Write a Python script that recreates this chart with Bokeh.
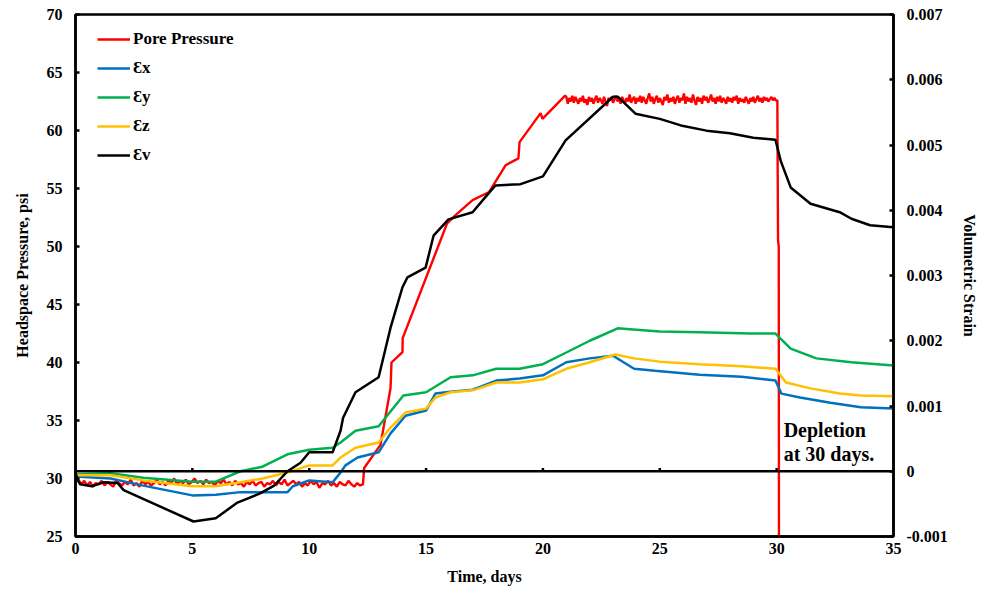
import numpy as np
from bokeh.plotting import figure
from bokeh.models import Range1d, LinearAxis, FixedTicker, Legend, LegendItem, Span, CustomJSTickFormatter
from bokeh.core.properties import value
from bokeh.embed import file_html
from bokeh.resources import INLINE

# ---------------- data ----------------
x_ticks = [0, 5, 10, 15, 20, 25, 30, 35]
psi_ticks = [25, 30, 35, 40, 45, 50, 55, 60, 65, 70]
strain_ticks = [-0.001, 0, 0.001, 0.002, 0.003, 0.004, 0.005, 0.006, 0.007]

# pore pressure (psi) - noisy early segment (0 .. 12.3 days)
pp_early_vals = [30.2, 29.9, 29.5, 29.8, 29.4, 29.7, 29.3, 29.6, 29.5, 29.8,
                 29.4, 29.7, 29.5, 29.3, 29.8, 29.6, 29.4, 29.7, 29.5, 29.9,
                 29.4, 29.6, 29.3, 29.8, 29.5, 29.7, 29.4, 29.6, 29.9, 29.5,
                 29.7, 29.4, 29.8, 29.6, 30.0, 29.5, 29.8, 29.6, 29.9, 29.5,
                 29.7, 30.0, 29.6, 29.8, 29.5, 29.9, 29.6, 29.7, 29.4, 29.8,
                 29.6, 29.9, 29.5, 29.7, 29.4, 29.8, 29.5, 29.6, 29.3, 29.7,
                 29.5, 29.8, 29.4, 29.6, 29.7, 29.3, 29.6, 29.5, 29.8, 29.4,
                 29.7, 29.5, 29.9, 29.4, 29.6, 29.8, 29.5, 29.7, 29.3, 29.6,
                 29.4, 29.8, 29.5, 29.7, 29.2, 29.6, 29.5, 29.8, 29.4, 29.6,
                 29.3, 29.7, 29.5, 29.4, 29.8, 29.5, 29.3, 29.6, 29.4, 29.5]
pp_early_t = list(np.linspace(0.0, 12.3, len(pp_early_vals)))
# pressure build-up
pp_rise_t = [12.35, 13.05, 13.48, 13.52, 13.99, 14.0, 15.9, 16.26, 16.99, 17.7,
             18.4, 18.95, 19.0, 19.9, 19.98, 20.95]
pp_rise_vals = [30.9, 32.9, 37.8, 40.0, 40.9, 42.1, 52.0, 52.7, 54.0, 54.7,
                57.0, 57.6, 59.0, 61.5, 61.0, 63.0]
# noisy plateau (21 .. 30 days)
pp_plat_vals = [62.9, 62.3, 62.8, 62.5, 63.0, 62.4, 62.9, 62.6, 62.3, 62.8,
                62.5, 63.0, 62.4, 62.7, 62.2, 62.9, 62.5, 62.8, 62.3, 62.7,
                63.0, 62.4, 62.8, 62.6, 62.3, 62.9, 62.5, 62.1, 62.8, 62.6,
                62.9, 62.4, 62.7, 63.0, 62.5, 62.8, 62.3, 62.9, 62.6, 62.4,
                62.8, 62.5, 63.1, 62.4, 62.7, 62.9, 62.3, 62.8, 62.5, 63.0,
                62.4, 62.9, 62.6, 62.3, 62.8, 63.2, 62.5, 62.9, 62.3, 62.7,
                63.0, 62.4, 62.8, 62.5, 62.2, 62.9, 62.6, 63.1, 62.4, 62.8,
                62.5, 62.9, 62.3, 62.7, 63.0, 62.4, 62.8, 62.6, 63.2, 62.3,
                62.9, 62.5, 62.8, 62.4, 63.1, 62.6, 62.2, 62.9, 62.5, 62.8,
                62.3, 63.0, 62.6, 62.9, 62.4, 62.7, 63.1, 62.5, 62.8, 62.3,
                62.9, 62.5, 63.0, 62.4, 62.8, 62.6, 62.3, 62.9, 62.5, 62.8,
                62.4, 62.9, 62.6, 63.0, 62.3, 62.8, 62.5, 62.7, 62.4, 62.9,
                62.6, 62.3, 62.8, 62.5, 62.9, 62.4, 62.7, 63.0, 62.5, 62.8,
                62.4, 62.9, 62.6, 62.8, 62.5, 62.7, 62.9, 62.6, 62.8, 62.6]
pp_plat_t = list(np.linspace(21.0, 29.97, len(pp_plat_vals)))
# depletion
pp_drop_t = [30.03, 30.06, 30.09, 30.1]
pp_drop_vals = [62.6, 50.5, 50.0, 20.0]

pp_t = pp_early_t + pp_rise_t + pp_plat_t + pp_drop_t
pp_vals = pp_early_vals + pp_rise_vals + pp_plat_vals + pp_drop_vals

# strains (right axis)
ex_t = [0, 1.5, 2.9, 5, 6, 7.06, 9.07, 9.3, 10, 11, 11.34, 11.55, 12.07, 12.97, 13.48,
        14.12, 15.0, 15.4, 16.05, 17.0, 18, 19, 20, 21, 22, 23, 23.9, 24.8, 26.7, 28.5,
        29.95, 30.2, 31, 32.3, 33.6, 35]
ex_vals = [-0.00008, -0.00011, -0.00022, -0.00037, -0.00036, -0.00032, -0.00032, -0.00023,
           -0.00014, -0.00017, -0.00002, 0.00009, 0.00021, 0.00029, 0.00058, 0.00085, 0.00093,
           0.00119, 0.00122, 0.00125, 0.00139, 0.00142, 0.00147, 0.00167, 0.00173, 0.00177,
           0.00157, 0.00154, 0.00148, 0.00145, 0.00139, 0.00119, 0.00113, 0.00105, 0.00098,
           0.00096]

ey_t = [0, 1.5, 2.9, 5, 6, 7.06, 8, 9.07, 10, 11, 11.34, 11.98, 12.97, 14.03, 15.0, 16.05,
        17.0, 18, 19, 20, 21, 22, 23.2, 24, 25, 26.7, 28.9, 29.95, 30.6, 31.7, 33.2, 35]
ey_vals = [-0.00005, -0.00003, -0.0001, -0.00016, -0.00016, 0.0, 0.00007, 0.00026, 0.00033,
           0.00036, 0.00044, 0.00062, 0.00069, 0.00116, 0.00121, 0.00144, 0.00147, 0.00157,
           0.00157, 0.00164, 0.00182, 0.002, 0.00219, 0.00217, 0.00214, 0.00213, 0.00211,
           0.00211, 0.00188, 0.00173, 0.00167, 0.00162]

ez_t = [0, 1.5, 2.9, 5, 6, 7.06, 8, 9.07, 10, 11, 11.34, 11.98, 12.97, 13.48, 14.12, 15.0,
        15.4, 16.05, 17.0, 18, 19, 20, 21, 22, 23.1, 23.9, 25, 26.7, 28.5, 29.95, 30.4,
        31.45, 32.7, 33.6, 35]
ez_vals = [-0.00006, -0.00006, -0.00014, -0.00023, -0.00023, -0.00017, -0.00011, -0.00002,
           0.00009, 0.00009, 0.00021, 0.00036, 0.00044, 0.00067, 0.0009, 0.00096, 0.00113,
           0.00121, 0.00124, 0.00136, 0.00136, 0.00141, 0.00157, 0.00167, 0.00179, 0.00173,
           0.00168, 0.00164, 0.00161, 0.00157, 0.00136, 0.00127, 0.00119, 0.00116, 0.00115]

ev_t = [0, 0.1, 0.2, 0.7, 1.2, 1.8, 2.06, 5.05, 6.0, 6.93, 7.9, 8.5, 9.07, 9.63, 10.0, 11.0,
        11.34, 11.45, 11.98, 12.97, 13.48, 13.99, 14.2, 14.98, 15.32, 15.96, 16.99, 17.7,
        17.97, 19.04, 20.0, 20.97, 23.0, 23.2, 23.96, 25.0, 25.9, 27.0, 28.0, 29.0, 29.95,
        30.17, 30.6, 31.45, 32.7, 33.2, 34.0, 35]
ev_vals = [-0.00002, -0.00014, -0.0002, -0.00023, -0.00017, -0.00018, -0.00029, -0.00077,
           -0.00072, -0.00048, -0.00034, -0.00022, 0.0, 0.00013, 0.00029, 0.00029, 0.00062,
           0.00082, 0.00121, 0.00144, 0.0022, 0.00282, 0.00297, 0.00312, 0.00361, 0.00386,
           0.00397, 0.00427, 0.00438, 0.0044, 0.00452, 0.00507, 0.00574, 0.00574, 0.00548,
           0.0054, 0.0053, 0.00522, 0.00518, 0.00511, 0.00508, 0.00476, 0.00435, 0.0041,
           0.00397, 0.00387, 0.00377, 0.00374]

legend_labels = ["Pore Pressure", "\u0190x", "\u0190y", "\u0190z", "\u0190v"]
colors = ["#FF0000", "#0070C0", "#00B050", "#FFC000", "#000000"]
note_lines = ["Depletion", "at 30 days."]

# ---------------- figure ----------------
FONT = "Liberation Serif"
p = figure(width=981, height=592, output_backend="svg", toolbar_location=None,
           x_range=Range1d(0, 35), y_range=Range1d(25, 70),
           min_border_left=75, min_border_right=88, min_border_top=14, min_border_bottom=56)
p.extra_y_ranges = {"strain": Range1d(-0.001, 0.007)}
p.xgrid.visible = False
p.ygrid.visible = False
p.background_fill_color = "white"
p.border_fill_color = "white"
p.outline_line_color = "black"
p.outline_line_width = 2.5
p.outline_line_alpha = 1.0

# axes
xa = p.xaxis[0]
xa.ticker = FixedTicker(ticks=x_ticks)
xa.axis_label = "Time, days"
xa.major_tick_in = 0
xa.major_tick_out = 0
xa.minor_tick_line_color = None
xa.axis_line_width = 2.5
xa.major_label_standoff = 6
xa.axis_label_standoff = 11

ya = p.yaxis[0]
ya.ticker = FixedTicker(ticks=psi_ticks)
ya.axis_label = "Headspace Pressure, psi"
ya.major_tick_in = 4
ya.major_tick_out = 0
ya.minor_tick_line_color = None
ya.axis_line_width = 2.5
ya.major_tick_line_width = 2.5
ya.major_label_standoff = 13
ya.axis_label_standoff = 13

ra = LinearAxis(y_range_name="strain", ticker=FixedTicker(ticks=strain_ticks),
                axis_label="Volumetric Strain")
ra.formatter = CustomJSTickFormatter(code="return Math.abs(tick) < 1e-12 ? '0' : tick.toFixed(3);")
ra.major_tick_in = 4
ra.major_tick_out = 0
ra.minor_tick_line_color = None
ra.axis_line_width = 2.5
ra.major_tick_line_width = 2.5
ra.major_label_standoff = 13
ra.axis_label_standoff = 10
p.add_layout(ra, "right")

for ax in (xa, ya, ra):
    ax.major_label_text_font = FONT
    ax.major_label_text_font_style = "bold"
    ax.major_label_text_font_size = "16px"
    ax.major_label_text_color = "black"
    ax.axis_label_text_font = FONT
    ax.axis_label_text_font_style = "bold"
    ax.axis_label_text_font_size = "16px"
    ax.axis_label_text_color = "black"
    ax.axis_line_color = "black"
    ax.major_tick_line_color = "black"

# zero-strain horizontal axis line with tick marks
p.add_layout(Span(location=0, dimension="width", y_range_name="strain",
                  line_color="black", line_width=2.5))
p.segment(x0=x_ticks, y0=[0] * len(x_ticks), x1=x_ticks, y1=[0.00005] * len(x_ticks),
          y_range_name="strain", line_color="black", line_width=2.5)

# series
r_pp = p.line(pp_t, pp_vals, line_color=colors[0], line_width=2.4)
r_ex = p.line(ex_t, ex_vals, y_range_name="strain", line_color=colors[1], line_width=2.5)
r_ey = p.line(ey_t, ey_vals, y_range_name="strain", line_color=colors[2], line_width=2.5)
r_ez = p.line(ez_t, ez_vals, y_range_name="strain", line_color=colors[3], line_width=2.5)
r_ev = p.line(ev_t, ev_vals, y_range_name="strain", line_color=colors[4], line_width=2.5)

legend = Legend(items=[LegendItem(label=lab, renderers=[r])
                       for lab, r in zip(legend_labels, [r_pp, r_ex, r_ey, r_ez, r_ev])],
                location=(22, 371), orientation="vertical")
legend.glyph_width = 33
legend.glyph_height = 20
legend.label_height = 20
legend.spacing = 9
legend.padding = 0
legend.margin = 0
legend.label_standoff = 3
legend.border_line_color = None
legend.background_fill_alpha = 0
legend.label_text_font = FONT
legend.label_text_font_style = "bold"
legend.label_text_font_size = "17px"
legend.label_text_color = "black"
p.add_layout(legend, "center")

# annotation
p.text(x=[30.3, 30.3], y=[35.1, 33.1], text=note_lines,
       text_font=value(FONT), text_font_style="bold", text_font_size="20px",
       text_baseline="top", text_align="left", text_color="black")

open("out.html", "w").write(file_html(p, INLINE))
